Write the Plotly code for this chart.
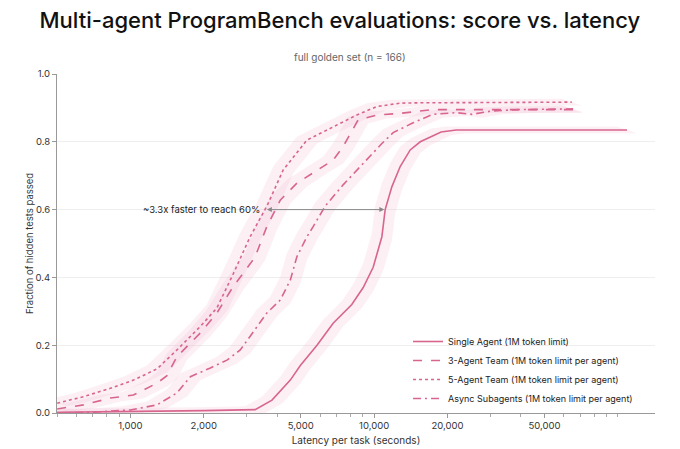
import numpy as np
import plotly.graph_objects as go

# 各条曲线的数据
single_x = [500, 1000, 2000, 3250, 3810, 4530, 4980, 5830, 6790, 8100, 9020, 9910,
            10760, 11100, 11820, 12790, 14060, 15460, 16600, 18830, 21700, 109000]
single_y = [0.002, 0.004, 0.007, 0.010, 0.038, 0.097, 0.14, 0.20, 0.265, 0.32, 0.37, 0.43,
            0.52, 0.60, 0.667, 0.727, 0.776, 0.80, 0.81, 0.829, 0.835, 0.835]

team3_x = [501, 642, 828, 1029, 1286, 1413, 1552, 1935, 2265, 2641, 3100, 3250, 3630,
           4120, 4820, 5830, 6790, 7460, 8590, 10260, 12790, 17460, 65500]
team3_y = [0.012, 0.024, 0.044, 0.053, 0.088, 0.11, 0.166, 0.236, 0.295, 0.373, 0.44, 0.461,
           0.55, 0.628, 0.678, 0.717, 0.746, 0.786, 0.864, 0.879, 0.884, 0.895, 0.895]

team5_x = [501, 642, 828, 1029, 1286, 1552, 1935, 2265, 2641, 3100, 3630, 4237, 5300,
           6790, 8490, 10260, 12790, 15460, 64700]
team5_y = [0.029, 0.048, 0.073, 0.097, 0.13, 0.186, 0.255, 0.31, 0.41, 0.52, 0.61, 0.717,
           0.805, 0.845, 0.879, 0.904, 0.914, 0.915, 0.917]

async_x = [500, 700, 1000, 1286, 1552, 1763, 2129, 2490, 2824, 3193, 3630, 4120, 4530,
           4820, 5300, 5623, 6295, 7460, 9020, 10760, 11970, 14450, 17420, 21700, 25220,
           30480, 39170, 65500]
async_y = [0.0, 0.002, 0.009, 0.024, 0.059, 0.107, 0.133, 0.156, 0.186, 0.24, 0.295, 0.333,
           0.392, 0.461, 0.52, 0.55, 0.61, 0.673, 0.737, 0.795, 0.827, 0.856, 0.881, 0.886,
           0.881, 0.891, 0.895, 0.897]

names = ["Single Agent (1M token limit)",
         "3-Agent Team (1M token limit per agent)",
         "5-Agent Team (1M token limit per agent)",
         "Async Subagents (1M token limit per agent)"]
dashes = ["solid", "dash", "dot", "8px,4px,2px,4px"]

x_ticks = [1000, 2000, 5000, 10000, 20000, 50000]
y_ticks = [0.0, 0.2, 0.4, 0.6, 0.8, 1.0]

line_color = "#d8658e"
band_color = "rgba(240,170,198,0.18)"
band_ratio = 1.1   # 置信带左右偏移
band_dy = 0.01

fig = go.Figure()

series = [(single_x, single_y), (team3_x, team3_y), (team5_x, team5_y), (async_x, async_y)]

# 先画浅色置信带
for xs, ys in series:
    xs = np.array(xs, dtype=float)
    ys = np.array(ys, dtype=float)
    up_x = xs / band_ratio
    up_y = ys + band_dy
    lo_x = xs * band_ratio
    lo_y = np.clip(ys - band_dy, 0, None)
    fig.add_trace(go.Scatter(x=list(up_x) + list(lo_x[::-1]),
                             y=list(up_y) + list(lo_y[::-1]),
                             fill="toself", fillcolor=band_color,
                             line=dict(width=0), mode="lines",
                             hoverinfo="skip", showlegend=False))

for (xs, ys), name, dash in zip(series, names, dashes):
    fig.add_trace(go.Scatter(x=xs, y=ys, mode="lines", name=name,
                             line=dict(color=line_color, width=1.6, dash=dash)))

# 箭头注释
fig.add_annotation(x=np.log10(3630), y=0.6, ax=np.log10(11170), ay=0.6,
                   xref="x", yref="y", axref="x", ayref="y", text="",
                   showarrow=True, arrowhead=2, arrowside="end+start",
                   arrowsize=1, arrowwidth=1, arrowcolor="#888888")
fig.add_annotation(x=np.log10(1950), y=0.6, xref="x", yref="y",
                   text="~3.3x faster to reach 60%", showarrow=False,
                   font=dict(size=9.5, color="#222222"))
fig.add_annotation(x=0.49, y=1.075, xref="paper", yref="paper",
                   text="full golden set (n = 166)", showarrow=False,
                   font=dict(size=10, color="#666666"))

# 页面本身有8px的边距，这里把边距减掉
fig.update_layout(
    width=680, height=449,
    margin=dict(l=49, r=33, t=66, b=44, autoexpand=False),
    paper_bgcolor="white", plot_bgcolor="white",
    font=dict(family="Inter, Roboto, sans-serif", color="#333333"),
    title=dict(text="Multi-agent ProgramBench evaluations: score vs. latency",
               x=0.488, xanchor="center", y=0.973, yanchor="middle",
               font=dict(size=22, color="#111111", weight=500)),
    legend=dict(x=0.587, y=0.0, xanchor="left", yanchor="bottom",
                bgcolor="rgba(255,255,255,0)", font=dict(size=9, color="#222222"),
                tracegroupgap=0, itemwidth=30),
)

fig.update_xaxes(type="log", range=[np.log10(500), np.log10(142000)],
                 tickvals=x_ticks, tickformat=",d", automargin=False,
                 showgrid=False, showline=True, linecolor="#999999",
                 ticks="outside", ticklen=4, tickcolor="#999999",
                 tickfont=dict(size=9.5),
                 minor=dict(ticks="outside", ticklen=2.5, tickcolor="#aaaaaa",
                            dtick="D1", showgrid=False),
                 title=dict(text="Latency per task (seconds)", font=dict(size=10),
                            standoff=6))
fig.update_yaxes(range=[0, 1.0], tickvals=y_ticks, tickformat=".1f", automargin=False,
                 showgrid=True, gridcolor="#eeeeee", zeroline=False,
                 showline=True, linecolor="#999999",
                 ticks="outside", ticklen=4, tickcolor="#999999",
                 tickfont=dict(size=9.5),
                 title=dict(text="Fraction of hidden tests passed", font=dict(size=9.5),
                            standoff=0))

fig.write_html("out.html")
